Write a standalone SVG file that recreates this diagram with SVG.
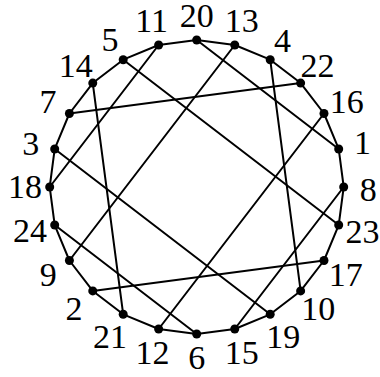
<svg xmlns="http://www.w3.org/2000/svg" width="380" height="377" viewBox="0 0 380 377">
<style>
.e{stroke:#000;stroke-width:2;stroke-linecap:round;fill:none}
.n{fill:#000}
.l{font-family:"Liberation Serif","Times New Roman",serif;font-size:34px;fill:#000;text-anchor:middle}
</style>
<rect width="380" height="377" fill="#fff"/>
<g id="connectors">
<line class="e" x1="196.7" y1="40" x2="234.75" y2="45"/>
<line class="e" x1="234.75" y1="45" x2="270.2" y2="59.7"/>
<line class="e" x1="270.2" y1="59.7" x2="300.64" y2="83.06"/>
<line class="e" x1="300.64" y1="83.06" x2="324" y2="113.5"/>
<line class="e" x1="324" y1="113.5" x2="338.7" y2="148.95"/>
<line class="e" x1="338.7" y1="148.95" x2="343.7" y2="187"/>
<line class="e" x1="343.7" y1="187" x2="338.7" y2="225.05"/>
<line class="e" x1="338.7" y1="225.05" x2="324" y2="260.5"/>
<line class="e" x1="324" y1="260.5" x2="300.64" y2="290.94"/>
<line class="e" x1="300.64" y1="290.94" x2="270.2" y2="314.3"/>
<line class="e" x1="270.2" y1="314.3" x2="234.75" y2="329"/>
<line class="e" x1="234.75" y1="329" x2="196.7" y2="334"/>
<line class="e" x1="196.7" y1="334" x2="158.65" y2="329"/>
<line class="e" x1="158.65" y1="329" x2="123.2" y2="314.3"/>
<line class="e" x1="123.2" y1="314.3" x2="92.76" y2="290.94"/>
<line class="e" x1="92.76" y1="290.94" x2="69.4" y2="260.5"/>
<line class="e" x1="69.4" y1="260.5" x2="54.7" y2="225.05"/>
<line class="e" x1="54.7" y1="225.05" x2="49.7" y2="187"/>
<line class="e" x1="49.7" y1="187" x2="54.7" y2="148.95"/>
<line class="e" x1="54.7" y1="148.95" x2="69.4" y2="113.5"/>
<line class="e" x1="69.4" y1="113.5" x2="92.76" y2="83.06"/>
<line class="e" x1="92.76" y1="83.06" x2="123.2" y2="59.7"/>
<line class="e" x1="123.2" y1="59.7" x2="158.65" y2="45"/>
<line class="e" x1="158.65" y1="45" x2="196.7" y2="40"/>
<line class="e" x1="196.7" y1="40" x2="338.7" y2="148.95"/>
<line class="e" x1="158.65" y1="45" x2="49.7" y2="187"/>
<line class="e" x1="69.4" y1="113.5" x2="300.64" y2="83.06"/>
<line class="e" x1="123.2" y1="59.7" x2="338.7" y2="225.05"/>
<line class="e" x1="92.76" y1="83.06" x2="123.2" y2="314.3"/>
<line class="e" x1="54.7" y1="148.95" x2="270.2" y2="314.3"/>
<line class="e" x1="54.7" y1="225.05" x2="196.7" y2="334"/>
<line class="e" x1="69.4" y1="260.5" x2="234.75" y2="45"/>
<line class="e" x1="92.76" y1="290.94" x2="324" y2="260.5"/>
<line class="e" x1="158.65" y1="329" x2="324" y2="113.5"/>
<line class="e" x1="234.75" y1="329" x2="343.7" y2="187"/>
<line class="e" x1="300.64" y1="290.94" x2="270.2" y2="59.7"/>
</g>
<g id="n20"><circle class="n" cx="196.7" cy="40" r="4.5"/><text class="l" x="196.7" y="26.5">20</text></g>
<g id="n13"><circle class="n" cx="234.75" cy="45" r="4.5"/><text class="l" x="241.7" y="32.3">13</text></g>
<g id="n4"><circle class="n" cx="270.2" cy="59.7" r="4.5"/><text class="l" x="282.5" y="51.5">4</text></g>
<g id="n22"><circle class="n" cx="300.64" cy="83.06" r="4.5"/><text class="l" x="317.5" y="77.3">22</text></g>
<g id="n16"><circle class="n" cx="324" cy="113.5" r="4.5"/><text class="l" x="346.7" y="113.2">16</text></g>
<g id="n1"><circle class="n" cx="338.7" cy="148.95" r="4.5"/><text class="l" x="362.5" y="154">1</text></g>
<g id="n8"><circle class="n" cx="343.7" cy="187" r="4.5"/><text class="l" x="368.3" y="200.5">8</text></g>
<g id="n23"><circle class="n" cx="338.7" cy="225.05" r="4.5"/><text class="l" x="362.5" y="242.5">23</text></g>
<g id="n17"><circle class="n" cx="324" cy="260.5" r="4.5"/><text class="l" x="345.8" y="286">17</text></g>
<g id="n10"><circle class="n" cx="300.64" cy="290.94" r="4.5"/><text class="l" x="318.3" y="320.2">10</text></g>
<g id="n19"><circle class="n" cx="270.2" cy="314.3" r="4.5"/><text class="l" x="283.3" y="347.5">19</text></g>
<g id="n15"><circle class="n" cx="234.75" cy="329" r="4.5"/><text class="l" x="241.7" y="364.3">15</text></g>
<g id="n6"><circle class="n" cx="196.7" cy="334" r="4.5"/><text class="l" x="196.7" y="368.5">6</text></g>
<g id="n12"><circle class="n" cx="158.65" cy="329" r="4.5"/><text class="l" x="152.5" y="364.3">12</text></g>
<g id="n21"><circle class="n" cx="123.2" cy="314.3" r="4.5"/><text class="l" x="110" y="347.5">21</text></g>
<g id="n2"><circle class="n" cx="92.76" cy="290.94" r="4.5"/><text class="l" x="74" y="320.2">2</text></g>
<g id="n9"><circle class="n" cx="69.4" cy="260.5" r="4.5"/><text class="l" x="48.3" y="286.2">9</text></g>
<g id="n24"><circle class="n" cx="54.7" cy="225.05" r="4.5"/><text class="l" x="30" y="241.5">24</text></g>
<g id="n18"><circle class="n" cx="49.7" cy="187" r="4.5"/><text class="l" x="25" y="198.2">18</text></g>
<g id="n3"><circle class="n" cx="54.7" cy="148.95" r="4.5"/><text class="l" x="30.8" y="154.8">3</text></g>
<g id="n7"><circle class="n" cx="69.4" cy="113.5" r="4.5"/><text class="l" x="48" y="113.2">7</text></g>
<g id="n14"><circle class="n" cx="92.76" cy="83.06" r="4.5"/><text class="l" x="75.8" y="77.3">14</text></g>
<g id="n5"><circle class="n" cx="123.2" cy="59.7" r="4.5"/><text class="l" x="110" y="50.7">5</text></g>
<g id="n11"><circle class="n" cx="158.65" cy="45" r="4.5"/><text class="l" x="151.7" y="31.8">11</text></g>
</svg>
